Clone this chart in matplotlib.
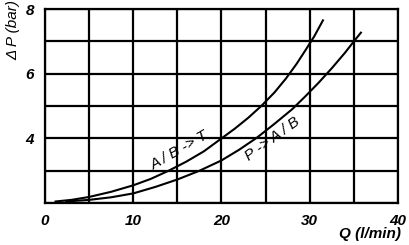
import numpy as np
import matplotlib.pyplot as plt

# curve A/B -> T
q_abt = [1.2, 3, 5, 7.5, 10, 12, 14, 16, 18, 20, 21.5, 23, 24.5, 26, 27.3,
         28.5, 29.5, 30.5, 31.5]
dp_abt = [2.05, 2.1, 2.19, 2.35, 2.55, 2.75, 3.0, 3.28, 3.6, 4.0, 4.3, 4.63,
          5.0, 5.42, 5.85, 6.3, 6.72, 7.15, 7.65]
# curve P -> A/B
q_pab = [2.4, 5, 7.5, 10, 12.5, 15, 17.5, 20, 22, 24, 26, 28, 29.5, 31,
         32.5, 34, 35, 35.8]
dp_pab = [2.05, 2.1, 2.18, 2.3, 2.5, 2.73, 3.0, 3.32, 3.65, 4.02, 4.45, 4.9,
          5.3, 5.72, 6.17, 6.65, 7.0, 7.27]

xticks = [0, 10, 20, 30, 40]
yticks = [4, 6, 8]

plt.rcParams['font.family'] = ['Liberation Sans', 'DejaVu Sans']

fig = plt.figure(figsize=(4.09, 2.45), dpi=100)
ax = fig.add_axes([0.11, 0.171, 0.863, 0.792])

ax.set_xlim(0, 40)
ax.set_ylim(2, 8)
ax.set_xticks(np.arange(0, 41, 5))
ax.set_yticks(np.arange(2, 9, 1))
ax.grid(True, color='black', lw=1.6)
ax.set_xticklabels([str(v) if v in xticks else '' for v in np.arange(0, 41, 5)],
                   fontstyle='italic', fontweight='bold', fontsize=11)
ax.set_yticklabels([str(v) if v in yticks else '' for v in np.arange(2, 9, 1)],
                   fontstyle='italic', fontweight='bold', fontsize=11)
ax.tick_params(length=0, pad=8)
for s in ax.spines.values():
    s.set_linewidth(1.6)

ax.plot(q_abt, dp_abt, color='black', lw=1.5)
ax.plot(q_pab, dp_pab, color='black', lw=1.5)

ax.text(15.3, 3.62, 'A / B -> T', rotation=30, ha='center', va='center',
        fontsize=11, fontstyle='italic')
ax.text(25.8, 3.97, 'P -> A / B', rotation=36, ha='center', va='center',
        fontsize=11, fontstyle='italic')

fig.text(0.032, 1.0, '\u0394 P (bar)', rotation=90, ha='center', va='top',
         fontsize=11, fontstyle='italic')
fig.text(0.83, 0.015, 'Q (l/min)', ha='left', va='bottom',
         fontsize=11, fontstyle='italic', fontweight='bold')

fig.savefig('out.png', dpi=100)
